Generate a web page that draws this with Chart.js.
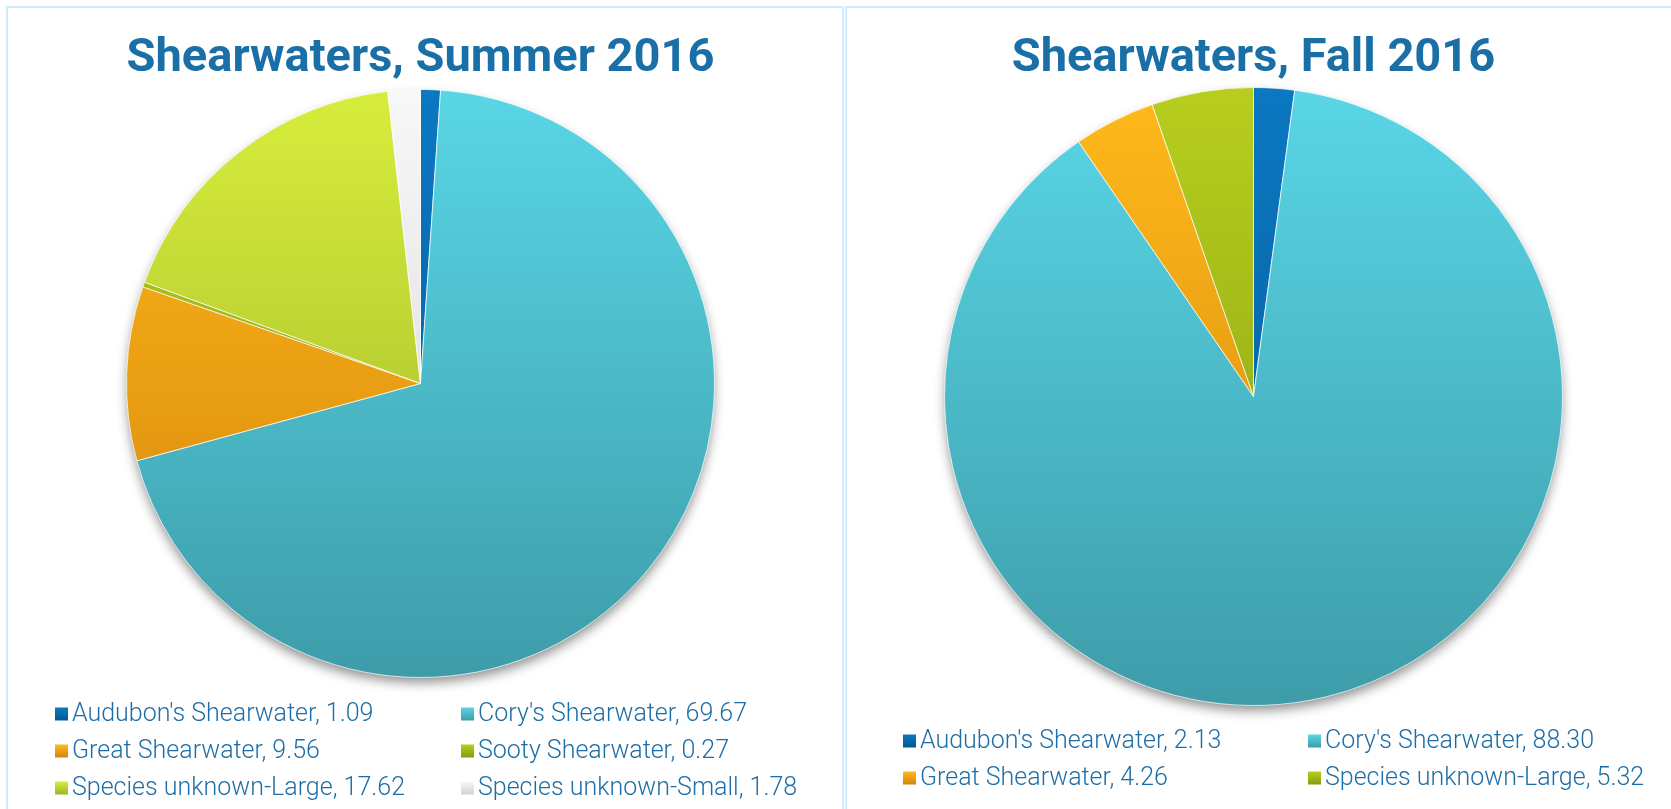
<!DOCTYPE html>
<html>
<head>
<meta charset="utf-8">
<script src="https://cdn.jsdelivr.net/npm/chart.js@4.4.1/dist/chart.umd.min.js"></script>
<style>
  html, body { margin: 0; padding: 0; background: #fff; overflow: hidden; }
  body { width: 1671px; height: 809px; position: relative; }
  .panel { position: absolute; box-sizing: border-box; border: 2px solid #cbeefc; height: 900px; }
  #panelL { left: 6px; top: 6px; width: 838px; }
  #panelR { left: 845px; top: 6px; width: 900px; }
  .wrap { position: absolute; }
  #wrapL { left: 8px; top: 8px; width: 834px; height: 801px; }
  #wrapR { left: 847px; top: 8px; width: 824px; height: 801px; }
</style>
</head>
<body>
<div class="panel" id="panelL"></div>
<div class="panel" id="panelR"></div>
<div class="wrap" id="wrapL"><canvas id="summer"></canvas></div>
<div class="wrap" id="wrapR"><canvas id="fall"></canvas></div>
<script>
// ── Data ───────────────────────────────────────────────────────────────────
const summerLabels = [
  "Audubon's Shearwater", "Cory's Shearwater", 'Great Shearwater',
  'Sooty Shearwater', 'Species unknown-Large', 'Species unknown-Small'
];
const summerValues = [1.09, 69.67, 9.56, 0.27, 17.62, 1.78];

const fallLabels = [
  "Audubon's Shearwater", "Cory's Shearwater", 'Great Shearwater',
  'Species unknown-Large'
];
const fallValues = [2.13, 88.30, 4.26, 5.32];

// Excel-style palette by slice index: top / bottom of the vertical gradient
const PALETTE = [
  ['#0c78c2', '#005994'],
  ['#59d6e6', '#3e9ca9'],
  ['#ffba1c', '#d3830a'],
  ['#b7ce1e', '#869c12'],
  ['#d7ed3c', '#9db328'],
  ['#f8f8f8', '#d2d2d2']
];

const TITLE_COLOR = '#1a6fa6';
const TEXT_COLOR  = '#1d6ea6';

function sliceFill(ctx) {
  const chart = ctx.chart;
  const [top, bottom] = PALETTE[ctx.dataIndex % PALETTE.length];
  const area = chart.chartArea;
  if (!area) return top;
  const cy = (area.top + area.bottom) / 2;
  const r  = Math.min(area.right - area.left, area.bottom - area.top) / 2;
  const g = chart.ctx.createLinearGradient(0, cy - r, 0, cy + r);
  g.addColorStop(0, top);
  g.addColorStop(1, bottom);
  return g;
}

// soft drop shadow under the whole pie
const pieShadow = {
  id: 'pieShadow',
  beforeDatasetsDraw(chart) {
    const arc = chart.getDatasetMeta(0).data[0];
    if (!arc) return;
    const { ctx } = chart;
    ctx.save();
    ctx.shadowColor   = 'rgba(0,0,0,0.45)';
    ctx.shadowBlur    = 12;
    ctx.shadowOffsetY = 6;
    ctx.fillStyle = '#ffffff';
    ctx.beginPath();
    ctx.arc(arc.x, arc.y, arc.outerRadius - 1, 0, Math.PI * 2);
    ctx.fill();
    ctx.restore();
  }
};

// two-column legend: "Label, value"
const gridLegend = {
  id: 'gridLegend',
  afterDraw(chart, args, opts) {
    const { ctx } = chart;
    const labels = chart.data.labels;
    const values = chart.data.datasets[0].data;
    ctx.save();
    ctx.font = `${opts.weight} ${opts.size}px ${opts.family}`;
    ctx.textBaseline = 'middle';
    labels.forEach((label, i) => {
      const col = i % 2, row = Math.floor(i / 2);
      const x = opts.cols[col];
      const y = opts.top + row * opts.rowGap;
      const [c1, c2] = PALETTE[i % PALETTE.length];
      const g = ctx.createLinearGradient(0, y - opts.box / 2, 0, y + opts.box / 2);
      g.addColorStop(0, c1);
      g.addColorStop(1, c2);
      ctx.fillStyle = g;
      ctx.fillRect(x, y - opts.box / 2, opts.box, opts.box);
      ctx.fillStyle = TEXT_COLOR;
      ctx.save();
      ctx.translate(x + opts.box + 4, y);
      ctx.scale(opts.condense, 1);
      ctx.fillText(`${label}, ${values[i].toFixed(2)}`, 0, 1);
      ctx.restore();
    });
    ctx.restore();
  }
};

function makePie(id, title, labels, values, pad, titlePad, legend) {
  return new Chart(document.getElementById(id), {
    type: 'pie',
    data: {
      labels,
      datasets: [{
        data: values,
        backgroundColor: sliceFill,
        borderColor: 'rgba(255,255,255,0.7)',
        borderWidth: 1
      }]
    },
    plugins: [pieShadow, gridLegend],
    options: {
      responsive: true,
      maintainAspectRatio: false,
      animation: false,
      layout: { padding: pad },
      plugins: {
        legend: { display: false },
        tooltip: { enabled: false },
        title: {
          display: true,
          text: title,
          color: TITLE_COLOR,
          font: { family: 'Roboto', size: 47, weight: 'bold', lineHeight: 1 },
          padding: titlePad
        },
        gridLegend: Object.assign({
          family: 'Roboto', size: 25, weight: 300, condense: 1.0,
          box: 13, rowGap: 37
        }, legend)
      }
    }
  });
}

makePie('summer', 'Shearwaters, Summer 2016', summerLabels, summerValues,
  { left: 118, right: 127, top: 0, bottom: 131 },
  { top: 28, bottom: 6 },
  { cols: [47, 453], top: 706 });

makePie('fall', 'Shearwaters, Fall 2016', fallLabels, fallValues,
  { left: 97, right: 108, top: 0, bottom: 103 },
  { top: 28, bottom: 4 },
  { cols: [56, 461], top: 733 });
</script>
</body>
</html>
